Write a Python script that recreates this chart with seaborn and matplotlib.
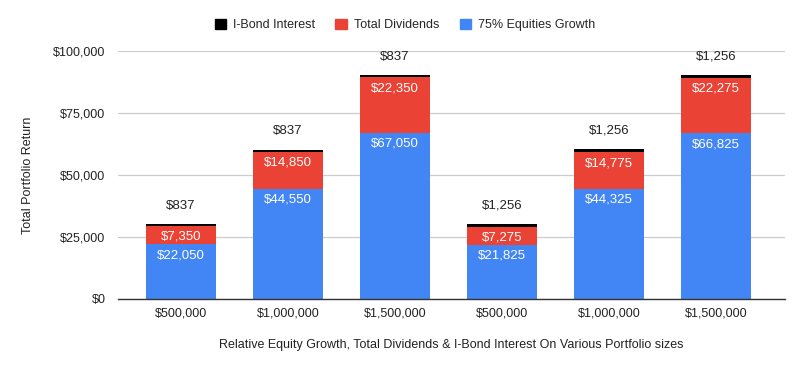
import matplotlib
matplotlib.use("Agg")
import matplotlib.pyplot as plt
import seaborn as sns
import pandas as pd
from matplotlib.patches import Patch

categories = ["$500,000", "$1,000,000", "$1,500,000", "$500,000", "$1,000,000", "$1,500,000"]
equities = [22050, 44550, 67050, 21825, 44325, 66825]
dividends = [7350, 14850, 22350, 7275, 14775, 22275]
ibond = [837, 837, 837, 1256, 1256, 1256]

BLUE = "#4285F4"
RED = "#EA4335"
BLACK = "#000000"

sns.set_theme(style="white")
plt.rcParams["font.family"] = ["Liberation Sans", "DejaVu Sans"]

keys = [f"k{i}" for i in range(len(categories))]
df = pd.DataFrame({
    "key": keys,
    "eq": equities,
    "eqdiv": [e + d for e, d in zip(equities, dividends)],
    "total": [e + d + b for e, d, b in zip(equities, dividends, ibond)],
})

fig = plt.figure(figsize=(8.06, 3.71), dpi=100)
ax = fig.add_axes([118 / 806, 1 - 299 / 371, (785 - 118) / 806, (299 - 51) / 371])

w = 0.65
for col, c in [("total", BLACK), ("eqdiv", RED), ("eq", BLUE)]:
    sns.barplot(data=df, x="key", y=col, order=keys, color=c, width=w, ax=ax,
                saturation=1, linewidth=0, edgecolor=c, zorder=3)

ax.set_ylim(0, 100000)
ax.set_xlim(-0.589, 5.645)
ax.set_yticks([0, 25000, 50000, 75000, 100000])
ax.set_yticklabels(["$0", "$25,000", "$50,000", "$75,000", "$100,000"], fontsize=9, color="#222222")
ax.set_xticks(range(len(categories)))
ax.set_xticklabels(categories, fontsize=9, color="#222222")
ax.tick_params(axis="both", length=0, pad=6)
ax.tick_params(axis="y", pad=9)
ax.yaxis.grid(True, color="#cccccc", linewidth=0.9, zorder=0)
ax.set_axisbelow(True)
for s in ["top", "right", "left"]:
    ax.spines[s].set_visible(False)
ax.spines["bottom"].set_color("#333333")
ax.spines["bottom"].set_linewidth(1)
ax.spines["bottom"].set_zorder(5)

ax.set_xlabel("Relative Equity Growth, Total Dividends & I-Bond Interest On Various Portfolio sizes",
              fontsize=9, color="#222222", labelpad=14)
ax.set_ylabel("Total Portfolio Return", fontsize=9, color="#222222", labelpad=14)

for i in range(len(categories)):
    e = equities[i]
    ed = e + dividends[i]
    t = ed + ibond[i]
    ax.annotate(f"${e:,}", (i, e), xytext=(0, -3.5), textcoords="offset points",
                ha="center", va="top", fontsize=9.5, color="white", zorder=6)
    ax.annotate(f"${dividends[i]:,}", (i, ed), xytext=(0, -3.5), textcoords="offset points",
                ha="center", va="top", fontsize=9.5, color="white", zorder=6)
    ax.annotate(f"${ibond[i]:,}", (i, t), xytext=(0, 9), textcoords="offset points",
                ha="center", va="bottom", fontsize=9.5, color="#222222", zorder=6)

handles = [Patch(color=BLACK, label="I-Bond Interest"),
           Patch(color=RED, label="Total Dividends"),
           Patch(color=BLUE, label="75% Equities Growth")]
fig.legend(handles=handles, loc="center", bbox_to_anchor=(405 / 806, 1 - 25 / 371), ncol=3,
           frameon=False, fontsize=9, handlelength=0.9, handleheight=0.9, columnspacing=1.6,
           handletextpad=0.6)

fig.savefig("out.png", dpi=100, facecolor="white")
